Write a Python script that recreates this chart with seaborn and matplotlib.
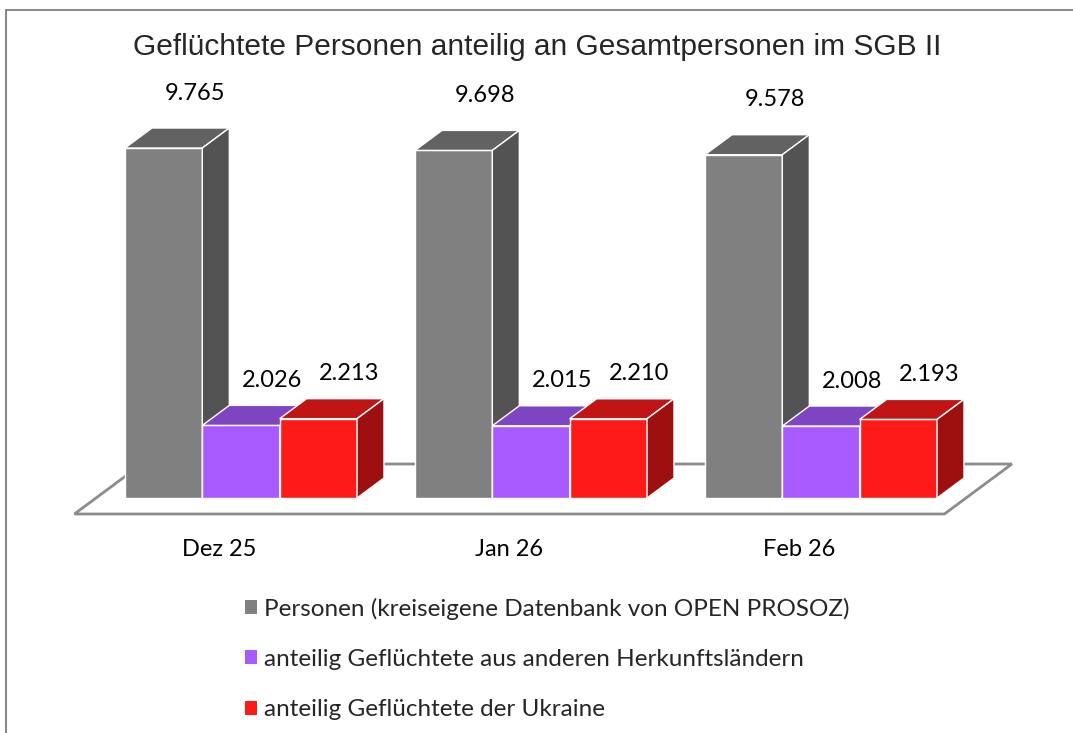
import matplotlib
matplotlib.use("Agg")
import matplotlib.pyplot as plt
from matplotlib.patches import Polygon
from matplotlib.lines import Line2D
import seaborn as sns
import pandas as pd

# data
months = ["Dez 25", "Jan 26", "Feb 26"]
series = ["Personen (kreiseigene Datenbank von OPEN PROSOZ)",
          "anteilig Geflüchtete aus anderen Herkunftsländern",
          "anteilig Geflüchtete der Ukraine"]
personen = [9765, 9698, 9578]
andere = [2026, 2015, 2008]
ukraine = [2213, 2210, 2193]

title = "Geflüchtete Personen anteilig an Gesamtpersonen im SGB II"

# colours: front face, top face, side face
front_cols = ["#808080", "#A95AFF", "#FF1A1A"]
top_cols = ["#626262", "#7F44C2", "#C11414"]
side_cols = ["#535353", "#6A36A8", "#9E0F0F"]

df = pd.DataFrame({
    "Monat": months * 3,
    "Reihe": [s for s in series for _ in months],
    "Wert": personen + andere + ukraine,
})

sns.set_style("white")
plt.rcParams["font.family"] = ["Lato", "DejaVu Sans"]

W, H = 1073, 733
fig = plt.figure(figsize=(W / 100, H / 100), dpi=100)
ax = fig.add_axes([0, 0, 1, 1])

sns.barplot(data=df, x="Monat", y="Wert", hue="Reihe", order=months,
            hue_order=series, palette=front_cols, saturation=1, width=0.8,
            edgecolor="white", linewidth=1, errorbar=None, ax=ax)

# pixel scale of the axes
px_x = 290.0            # pixels per category
x0_px = 241.0           # pixel of first category centre
px_y = 350.0 / 9765     # pixels per unit
base_py = 498.0         # pixel row of bar bottoms (from top)
ax.set_xlim(-x0_px / px_x, (W - x0_px) / px_x)
ax.set_ylim(-(H - base_py) / px_y, base_py / px_y)
ax.axis("off")

# oblique depth of one bar
DX = 27 / px_x
DY = 20 / px_y


def proj(x, y, d):
    return (x + d * DX, y + d * DY)


# floor
floor = [proj(-0.5, 0, -0.8), proj(2.5, 0, -0.8), proj(2.5, 0, 1.7), proj(-0.5, 0, 1.7)]
ax.add_patch(Polygon(floor, closed=True, facecolor="white", edgecolor="#8c8c8c",
                     lw=2, zorder=1))

label_off = [35, 25, 25]
for k, cont in enumerate(ax.containers):
    for i, bar in enumerate(cont):
        x0 = bar.get_x()
        w = bar.get_width()
        h = bar.get_height()
        z = 3 + x0 * 0.1
        bar.set_zorder(z)
        top = [(x0, h), (x0 + w, h), proj(x0 + w, h, 1), proj(x0, h, 1)]
        side = [(x0 + w, 0), proj(x0 + w, 0, 1), proj(x0 + w, h, 1), (x0 + w, h)]
        ax.add_patch(Polygon(top, closed=True, facecolor=top_cols[k],
                             edgecolor="white", lw=1, zorder=z))
        ax.add_patch(Polygon(side, closed=True, facecolor=side_cols[k],
                             edgecolor="white", lw=1, zorder=z))
        txt = f"{int(h):,}".replace(",", ".")
        ax.annotate(txt, xy=proj(x0 + w / 2, h, 1), xytext=(4, label_off[k]),
                    textcoords="offset pixels", ha="center", va="center",
                    fontsize=17, color="black", zorder=10)

# category labels under the floor front edge
for i, m in enumerate(months):
    ax.annotate(m, xy=proj(i, 0, -0.8), xytext=(0, -35), textcoords="offset pixels",
                ha="center", va="center", fontsize=17, color="black")

handles, labels = ax.get_legend_handles_labels()
leg = ax.legend(handles, labels, loc="center left",
                bbox_to_anchor=(223 / W, 1 - 659 / H), bbox_transform=fig.transFigure,
                frameon=False, handlelength=0.5, handleheight=0.5,
                handletextpad=0.3, labelspacing=1.2, fontsize=17.5)
for hnd in leg.legend_handles:
    hnd.set_edgecolor("none")

fig.text(537 / W, 1 - 47 / H, title, ha="center", va="center", fontsize=21.5,
         family=["Liberation Sans", "DejaVu Sans"])

# chart frame (top and left edges visible)
fig.add_artist(Line2D([6 / W, 1], [1 - 10 / H, 1 - 10 / H], transform=fig.transFigure,
                      color="#8a8a8a", lw=1.5))
fig.add_artist(Line2D([6 / W, 6 / W], [0, 1 - 10 / H], transform=fig.transFigure,
                      color="#8a8a8a", lw=1.5))

fig.savefig("out.png", dpi=100)
